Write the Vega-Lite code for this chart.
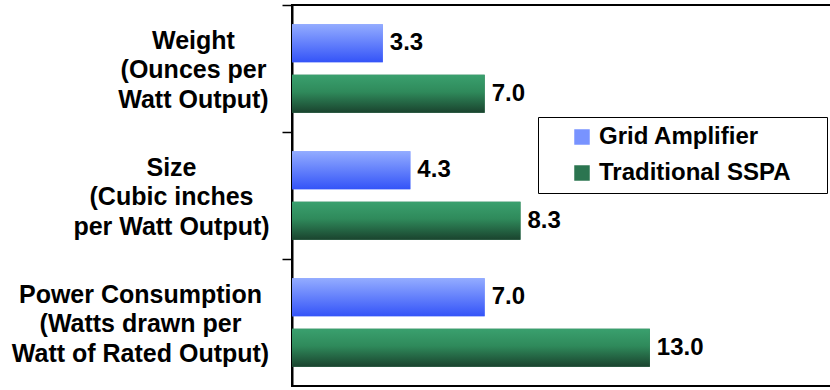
{
  "$schema": "https://vega.github.io/schema/vega-lite/v6.json",
  "autosize": {"type": "none"},
  "padding": {"left": 292, "top": 5, "right": 0, "bottom": 4},
  "width": 539,
  "height": 381,
  "background": "white",
  "config": {
    "font": "Liberation Sans",
    "view": {"stroke": "black", "strokeWidth": 2}
  },
  "data": {
    "values": [
      {"metric": "Weight|(Ounces per|Watt Output)", "series": "Grid Amplifier", "value": 3.3},
      {"metric": "Weight|(Ounces per|Watt Output)", "series": "Traditional SSPA", "value": 7.0},
      {"metric": "Size|(Cubic inches|per Watt Output)", "series": "Grid Amplifier", "value": 4.3},
      {"metric": "Size|(Cubic inches|per Watt Output)", "series": "Traditional SSPA", "value": 8.3},
      {"metric": "Power Consumption|(Watts drawn per|Watt of Rated Output)", "series": "Grid Amplifier", "value": 7.0},
      {"metric": "Power Consumption|(Watts drawn per|Watt of Rated Output)", "series": "Traditional SSPA", "value": 13.0}
    ]
  },
  "encoding": {
    "y": {
      "field": "metric", "type": "nominal", "sort": null,
      "scale": {"paddingInner": 0, "paddingOuter": 0},
      "axis": {
        "title": null,
        "bandPosition": 0,
        "domainColor": "black", "domainWidth": 2,
        "tickColor": "black", "tickWidth": 1.5, "tickSize": 10,
        "labelExpr": "split(datum.label, '|')",
        "labelAlign": "center", "labelBaseline": "middle",
        "labelOffset": -28,
        "labelPadding": {
          "condition": [
            {"test": "indexof(datum.value,'Power')==0", "value": 142},
            {"test": "indexof(datum.value,'Size')==0", "value": 111}
          ],
          "value": 89
        },
        "labelFont": "Liberation Sans", "labelFontWeight": "bold", "labelFontSize": 25,
        "labelColor": "black", "labelLineHeight": 29.5, "labelLimit": 0
      }
    },
    "yOffset": {
      "field": "series", "type": "nominal",
      "scale": {"paddingInner": 0.25, "paddingOuter": 0.38}
    },
    "x": {
      "field": "value", "type": "quantitative",
      "scale": {"domain": [0, 19.58], "nice": false, "zero": true},
      "axis": null
    }
  },
  "layer": [
    {
      "mark": {"type": "bar"},
      "encoding": {
        "color": {
          "field": "series", "type": "nominal",
          "scale": {"domain": ["Grid Amplifier", "Traditional SSPA"], "range": ["#7893ff", "#2b7550"]},
          "legend": {
            "title": "x",
            "titleOrient": "right", "titleColor": "transparent", "titleFontSize": 10, "titlePadding": 22,
            "orient": "none", "legendX": 246, "legendY": 112,
            "direction": "vertical",
            "strokeColor": "black", "fillColor": "white",
            "padding": 8, "symbolOffset": 24,
            "symbolType": "square", "symbolSize": 240, "symbolStrokeWidth": 0,
            "labelFont": "Liberation Sans", "labelFontWeight": "bold", "labelFontSize": 24,
            "labelColor": "black", "labelOffset": 5, "rowPadding": 12, "labelLimit": 0
          }
        }
      }
    },
    {
      "mark": {"type": "bar"},
      "encoding": {
        "fill": {
          "condition": {
            "test": "datum.series == 'Grid Amplifier'",
            "value": {"gradient": "linear", "x1": 0, "y1": 0, "x2": 0, "y2": 1,
              "stops": [{"offset": 0, "color": "#93acff"}, {"offset": 1, "color": "#3454f8"}]}
          },
          "value": {"gradient": "linear", "x1": 0, "y1": 0, "x2": 0, "y2": 1,
            "stops": [{"offset": 0, "color": "#3aa06e"}, {"offset": 0.45, "color": "#2f8a5b"}, {"offset": 1, "color": "#1a432e"}]}
        }
      }
    },
    {
      "mark": {"type": "text", "align": "left", "baseline": "middle", "dx": 7,
        "font": "Liberation Sans", "fontWeight": "bold", "fontSize": 24, "color": "black"},
      "encoding": {
        "text": {"field": "value", "type": "quantitative", "format": ".1f"}
      }
    }
  ]
}
